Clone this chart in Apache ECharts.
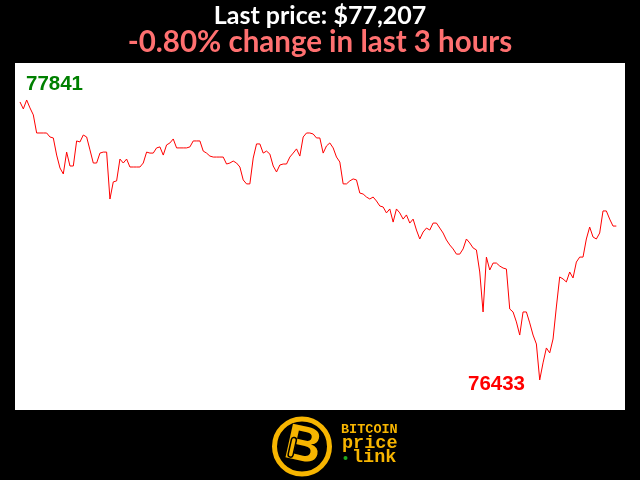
<!DOCTYPE html>
<html>
<head>
<meta charset="utf-8">
<script src="https://cdn.jsdelivr.net/npm/echarts@6/dist/echarts.min.js"></script>
<style>
  html, body { margin: 0; padding: 0; background: #000; }
  #chart { width: 640px; height: 480px; }
</style>
</head>
<body>
<div id="chart"></div>
<script>
// Bitcoin price, last 3 hours (one point per minute), USD
const prices = [
  77831, 77796, 77841, 77801, 77766, 77675, 77675, 77675, 77675, 77655,
  77650, 77564, 77499, 77469, 77579, 77509, 77509, 77635, 77630, 77665,
  77655, 77590, 77524, 77524, 77574, 77579, 77579, 77343, 77429, 77434,
  77544, 77524, 77544, 77504, 77504, 77504, 77504, 77524, 77579, 77574,
  77574, 77600, 77605, 77564, 77615, 77625, 77645, 77600, 77600, 77600,
  77600, 77605, 77635, 77635, 77635, 77584, 77574, 77559, 77554, 77554,
  77554, 77554, 77519, 77524, 77534, 77524, 77504, 77439, 77419, 77419,
  77549, 77620, 77620, 77574, 77584, 77569, 77509, 77479, 77514, 77519,
  77519, 77554, 77574, 77595, 77559, 77655, 77675, 77675, 77670, 77650,
  77650, 77574, 77610, 77625, 77600, 77554, 77529, 77419, 77419, 77434,
  77444, 77439, 77373, 77368, 77353, 77343, 77353, 77333, 77308, 77303,
  77273, 77293, 77227, 77293, 77273, 77242, 77263, 77222, 77242, 77187,
  77142, 77177, 77197, 77187, 77222, 77222, 77197, 77172, 77137, 77112,
  77092, 77066, 77066, 77092, 77142, 77122, 77097, 77087, 76976, 76775,
  77051, 76986, 77021, 77021, 77006, 76996, 76991, 76790, 76775, 76725,
  76659, 76775, 76775, 76720, 76659, 76614, 76433, 76519, 76594, 76569,
  76639, 76800, 76951, 76941, 76926, 76976, 76946, 77026, 77051, 77051,
  77142, 77202, 77152, 77142, 77172, 77283, 77283, 77242, 77207, 77207
];
const periodLabel = 'in last 3 hours';
const logoLines = ['BITCOIN', 'price', 'link'];

const lastPrice = prices[prices.length - 1];
const firstPrice = prices[0];
const pct = (lastPrice - firstPrice) / firstPrice * 100;
const maxP = Math.max(...prices);
const minP = Math.min(...prices);
const fmt = v => v.toString().replace(/\B(?=(\d{3})+(?!\d))/g, ',');

const seriesData = prices.map((v, i) => [i, v]);
const gold = '#f7b500';

const chart = echarts.init(document.getElementById('chart'), null, { renderer: 'canvas' });
chart.setOption({
  backgroundColor: '#000',
  animation: false,
  title: [
    {
      text: 'Last price: $' + fmt(lastPrice),
      left: 'center', top: 3, padding: 0,
      textStyle: { color: '#ffffff', fontFamily: 'Lato', fontWeight: 'bold', fontSize: 25, lineHeight: 26 }
    },
    {
      text: (pct >= 0 ? '+' : '') + pct.toFixed(2) + '% change ' + periodLabel,
      left: 'center', top: 27, padding: 0,
      textStyle: { color: '#ff7070', fontFamily: 'Lato', fontWeight: 'bold', fontSize: 29.5, lineHeight: 31 }
    }
  ],
  grid: {
    left: 15, right: 15, top: 63, bottom: 70,
    show: true, backgroundColor: '#ffffff', borderWidth: 0
  },
  xAxis: { type: 'value', min: -1.5, max: prices.length + 1.6, show: false },
  yAxis: { type: 'value', min: 76282, max: 78027, show: false },
  series: [{
    type: 'line',
    data: seriesData,
    symbol: 'none',
    smooth: false,
    lineStyle: { color: '#ff0000', width: 1 }
  }],
  graphic: [
    {
      type: 'text', left: 26, top: 74,
      style: { text: String(maxP), fill: '#008000', font: 'bold 20.5px "Liberation Sans", Arial, sans-serif' }
    },
    {
      type: 'text', left: 468, top: 374,
      style: { text: String(minP), fill: '#ff0000', font: 'bold 20.5px "Liberation Sans", Arial, sans-serif' }
    },
    // logo
    {
      type: 'circle', shape: { cx: 302, cy: 446.5, r: 27.5 },
      style: { fill: '#000', stroke: gold, lineWidth: 5 }
    },
    {
      type: 'text', x: 303, y: 447, rotation: -0.22,
      style: {
        text: 'B', fill: gold, font: 'bold 50px "Liberation Sans", Arial, sans-serif',
        align: 'center', verticalAlign: 'middle'
      }
    },
    {
      type: 'rect', x: 292, y: 437, rotation: -0.22,
      shape: { x: 0, y: 0, width: 5, height: 20, r: 2.5 },
      style: { fill: 'none', stroke: '#000', lineWidth: 1.5 }
    },
    {
      type: 'text', left: 341, top: 423,
      style: { text: logoLines[0], fill: gold, font: 'bold 13.5px "Liberation Mono", monospace' }
    },
    {
      type: 'text', left: 342, top: 434,
      style: { text: logoLines[1], fill: gold, font: 'bold 18.5px "Liberation Mono", monospace' }
    },
    {
      type: 'circle', shape: { cx: 345.5, cy: 458, r: 2 },
      style: { fill: '#1faa1f' }
    },
    {
      type: 'text', left: 352, top: 448,
      style: { text: logoLines[2], fill: gold, font: 'bold 18.5px "Liberation Mono", monospace' }
    }
  ]
});
</script>
</body>
</html>
